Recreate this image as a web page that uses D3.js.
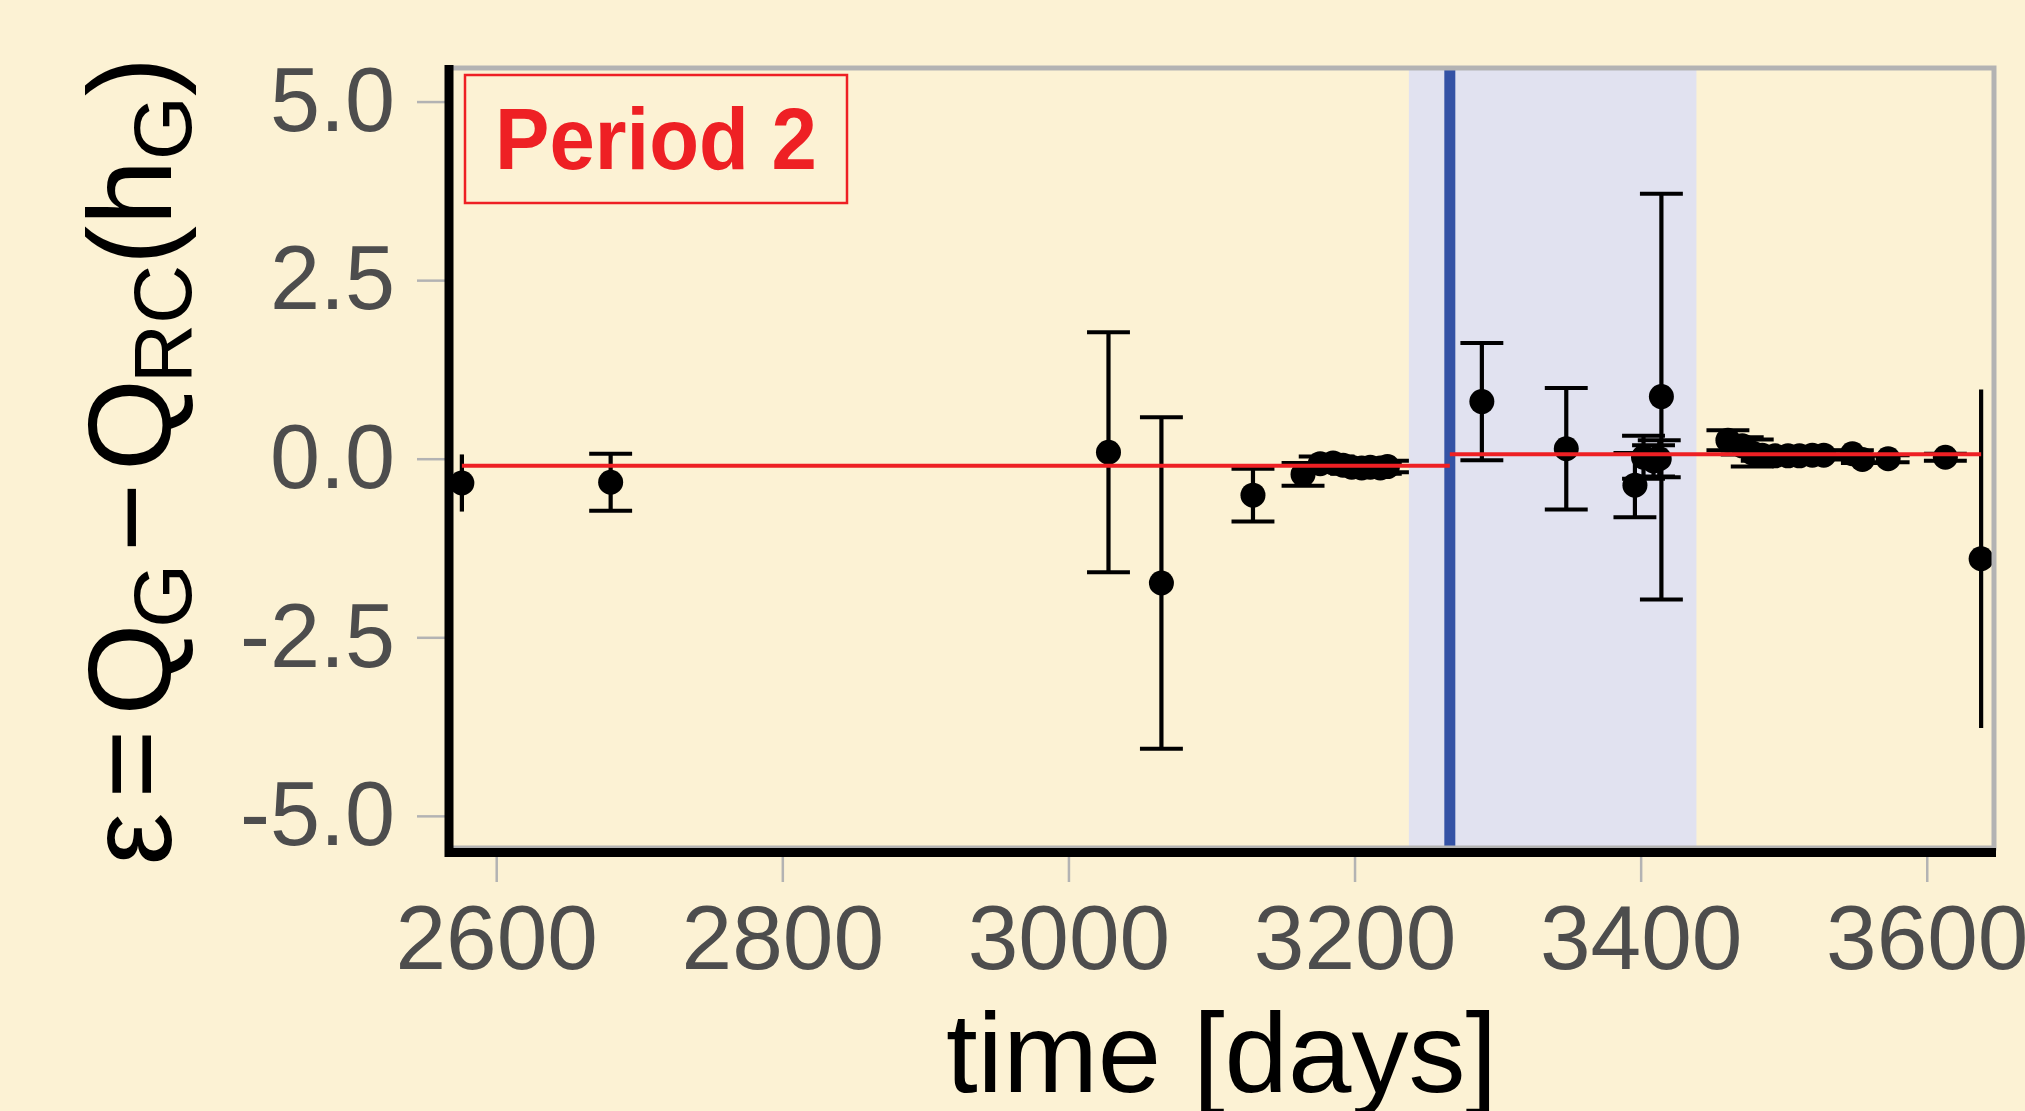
<!DOCTYPE html>
<html>
<head>
<meta charset="utf-8">
<script src="https://cdn.jsdelivr.net/npm/d3@7"></script>
<style>
  html, body { margin: 0; padding: 0; background: #fcf2d4; }
  svg { display: block; font-family: "Liberation Sans", Arial, sans-serif; }
</style>
</head>
<body>
<svg id="chart" width="2025" height="1111"></svg>
<script>
// observation times (days), residuals and their errors
const days = [2576, 2680, 3028, 3065, 3129, 3164,
  3176, 3185, 3192, 3198, 3205, 3211, 3218, 3223,
  3289, 3348, 3396, 3402, 3409, 3413, 3414.5,
  3461, 3471, 3478, 3485, 3494, 3503, 3511, 3520, 3528, 3548, 3555, 3573, 3613, 3638]
const values = [-0.34, -0.33, 0.09, -1.74, -0.51, -0.22,
  -0.07, -0.06, -0.09, -0.12, -0.13, -0.12, -0.13, -0.11,
  0.80, 0.14, -0.37, 0.02, -0.03, 0.00, 0.87,
  0.26, 0.18, 0.08, 0.05, 0.04, 0.04, 0.04, 0.05, 0.05, 0.07, -0.01, 0.00, 0.02, -1.40]
const errors = [0.40, 0.40, 1.68, 2.32, 0.37, 0.16,
  0.10, 0.09, 0.09, 0.09, 0.09, 0.09, 0.08, 0.08,
  0.82, 0.85, 0.45, 0.30, 0.22, 0.26, 2.84,
  0.14, 0.12, 0.19, 0.08, 0.06, 0.06, 0.06, 0.06, 0.06, 0.05, 0.05, 0.05, 0.05, 2.37]

// fitted level before and after the change point
const segStart = [2576, 3266.6]
const segEnd = [3266.6, 3638]
const segLevel = [-0.10, 0.063]

// highlighted window and change point
const shadeRange = [3238, 3439]
const changePoint = 3266.6

// axes
const xTicks = [2600, 2800, 3000, 3200, 3400, 3600]
const yTicks = [-5.0, -2.5, 0.0, 2.5, 5.0]
const xDomain = [2567, 3647]
const yDomain = [-5.45, 5.47]

const svgWidth = 2025
const svgHeight = 1111
const margin = { left: 449, right: 31, top: 68, bottom: 263 }
const width = svgWidth - margin.left - margin.right
const height = svgHeight - margin.top - margin.bottom

const capHalf = 15 // half width of error bar caps, in days

const svg = d3.select('#chart')

svg.append('rect')
  .attr('width', svgWidth)
  .attr('height', svgHeight)
  .attr('fill', '#fcf2d4')

const xScale = d3.scaleLinear().domain(xDomain).range([0, width])
const yScale = d3.scaleLinear().domain(yDomain).range([height, 0])

const g = svg.append('g')
  .attr('transform', `translate(${margin.left},${margin.top})`)

svg.append('defs')
  .append('clipPath')
  .attr('id', 'panel-clip')
  .append('rect')
  .attr('width', width)
  .attr('height', height)

const content = g.append('g').attr('clip-path', 'url(#panel-clip)')

// shaded window
content.append('rect')
  .attr('x', xScale(shadeRange[0]))
  .attr('y', 0)
  .attr('width', xScale(shadeRange[1]) - xScale(shadeRange[0]))
  .attr('height', height)
  .attr('fill', '#e1e2f0')

// change point line
content.append('line')
  .attr('x1', xScale(changePoint))
  .attr('x2', xScale(changePoint))
  .attr('y1', 0)
  .attr('y2', height)
  .attr('stroke', '#3452a5')
  .attr('stroke-width', 11)

const pts = days.map((d, i) => ({ t: d, v: values[i], e: errors[i] }))

// error bars
content.selectAll('.err-line')
  .data(pts)
  .join('line')
  .attr('class', 'err-line')
  .attr('x1', d => xScale(d.t))
  .attr('x2', d => xScale(d.t))
  .attr('y1', d => yScale(d.v + d.e))
  .attr('y2', d => yScale(d.v - d.e))
  .attr('stroke', '#000')
  .attr('stroke-width', 4.2)

// caps are dropped when they would run outside the x range
const capped = pts.filter(d => d.t - capHalf >= xDomain[0] && d.t + capHalf <= xDomain[1])
const caps = capped.flatMap(d => [{ t: d.t, y: d.v + d.e }, { t: d.t, y: d.v - d.e }])

content.selectAll('.err-cap')
  .data(caps)
  .join('line')
  .attr('class', 'err-cap')
  .attr('x1', d => xScale(d.t - capHalf))
  .attr('x2', d => xScale(d.t + capHalf))
  .attr('y1', d => yScale(d.y))
  .attr('y2', d => yScale(d.y))
  .attr('stroke', '#000')
  .attr('stroke-width', 4)

// points
content.selectAll('.pt')
  .data(pts)
  .join('circle')
  .attr('class', 'pt')
  .attr('cx', d => xScale(d.t))
  .attr('cy', d => yScale(d.v))
  .attr('r', 12.5)
  .attr('fill', '#000')

// fitted level segments
content.selectAll('.level')
  .data(segLevel)
  .join('line')
  .attr('class', 'level')
  .attr('x1', (d, i) => xScale(segStart[i]))
  .attr('x2', (d, i) => xScale(segEnd[i]))
  .attr('y1', d => yScale(d))
  .attr('y2', d => yScale(d))
  .attr('stroke', '#ee2024')
  .attr('stroke-width', 4)

// panel border (grey) then the black axis lines
g.append('rect')
  .attr('x', 0)
  .attr('y', 0)
  .attr('width', width)
  .attr('height', height)
  .attr('fill', 'none')
  .attr('stroke', '#b3b3b3')
  .attr('stroke-width', 5)

// x axis
const xAxis = d3.axisBottom(xScale)
  .tickValues(xTicks)
  .tickFormat(d3.format('d'))
  .tickSize(34)
  .tickPadding(22)

g.append('g')
  .attr('transform', `translate(0,${height})`)
  .call(xAxis)
  .call(a => a.select('.domain').remove())
  .call(a => a.selectAll('.tick line').attr('stroke', '#b3b3b3').attr('stroke-width', 2.5))
  .call(a => a.selectAll('.tick text')
    .attr('fill', '#4d4d4d')
    .attr('font-size', 91)
    .attr('font-family', '"Liberation Sans", Arial, sans-serif'))

// y axis
const yAxis = d3.axisLeft(yScale)
  .tickValues(yTicks)
  .tickFormat(d => d3.format('.1f')(d).replace('−', '-'))
  .tickSize(32)
  .tickPadding(22)

g.append('g')
  .call(yAxis)
  .call(a => a.select('.domain').remove())
  .call(a => a.selectAll('.tick line').attr('stroke', '#b3b3b3').attr('stroke-width', 2.5))
  .call(a => a.selectAll('.tick text')
    .attr('fill', '#4d4d4d')
    .attr('font-size', 90)
    .attr('font-family', '"Liberation Sans", Arial, sans-serif'))

g.append('line')
  .attr('x1', 0).attr('x2', 0)
  .attr('y1', -3).attr('y2', height + 9)
  .attr('stroke', '#000')
  .attr('stroke-width', 9)

g.append('line')
  .attr('x1', -4).attr('x2', width + 2)
  .attr('y1', height + 4.5).attr('y2', height + 4.5)
  .attr('stroke', '#000')
  .attr('stroke-width', 9)

// period label
const tag = g.append('g').attr('transform', 'translate(16,7)')
tag.append('rect')
  .attr('width', 382)
  .attr('height', 128)
  .attr('fill', '#fcf2d4')
  .attr('stroke', '#ee2024')
  .attr('stroke-width', 2.5)
tag.append('text')
  .attr('x', 191)
  .attr('y', 94)
  .attr('text-anchor', 'middle')
  .attr('font-size', 87)
  .attr('font-weight', 'bold')
  .attr('textLength', 322)
  .attr('lengthAdjust', 'spacingAndGlyphs')
  .attr('fill', '#ee2024')
  .text('Period 2')

// axis titles
svg.append('text')
  .attr('x', margin.left + width / 2)
  .attr('y', 1092)
  .attr('text-anchor', 'middle')
  .attr('font-size', 114)
  .attr('fill', '#000')
  .text('time [days]')

const ylab = svg.append('text')
  .attr('transform', 'translate(171,461) rotate(-90)')
  .attr('text-anchor', 'middle')
  .attr('font-size', 118)
  .attr('fill', '#000')

const parts = [
  { s: 'ε', sub: false, dx: 0 },
  { s: '=', sub: false, dx: 14 },
  { s: 'Q', sub: false, dx: 14 },
  { s: 'G', sub: true, dx: -4 },
  { s: '−', sub: false, dx: 12 },
  { s: 'Q', sub: false, dx: 12 },
  { s: 'RC', sub: true, dx: -4 },
  { s: '(h', sub: false, dx: 0 },
  { s: 'G', sub: true, dx: 0 },
  { s: ')', sub: false, dx: 0 }
]
let shifted = false
parts.forEach(p => {
  const dy = p.sub && !shifted ? 20 : (!p.sub && shifted ? -20 : 0)
  shifted = p.sub
  ylab.append('tspan')
    .attr('dx', p.dx)
    .attr('dy', dy)
    .attr('font-size', p.sub ? 82 : 118)
    .text(p.s)
})
</script>
</body>
</html>
